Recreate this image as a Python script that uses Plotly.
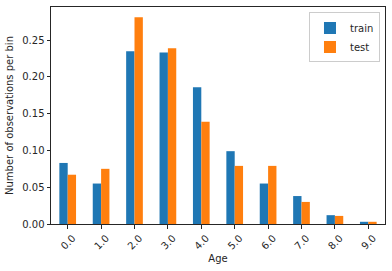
import plotly.graph_objects as go

ages = ["0.0", "1.0", "2.0", "3.0", "4.0", "5.0", "6.0", "7.0", "8.0", "9.0"]
train = [0.083, 0.055, 0.235, 0.233, 0.186, 0.099, 0.055, 0.038, 0.012, 0.003]
test = [0.067, 0.075, 0.281, 0.239, 0.139, 0.079, 0.079, 0.030, 0.011, 0.003]
y_ticks = [0.0, 0.05, 0.10, 0.15, 0.20, 0.25]
y_tick_text = ["0.00", "0.05", "0.10", "0.15", "0.20", "0.25"]

fig = go.Figure()
fig.add_trace(go.Bar(x=ages, y=train, name="train", marker_color="#1f77b4", marker_line_width=0))
fig.add_trace(go.Bar(x=ages, y=test, name="test", marker_color="#ff7f0e", marker_line_width=0))

fig.update_layout(
    width=392, height=271,
    margin=dict(l=51, r=7, t=7, b=47),
    barmode="group", bargap=0.5, bargroupgap=0,
    plot_bgcolor="white", paper_bgcolor="white",
    font=dict(family="DejaVu Sans", size=10, color="#262626"),
    legend=dict(x=0.985, y=0.975, xanchor="right", yanchor="top",
                bordercolor="#cccccc", borderwidth=1, bgcolor="rgba(255,255,255,0.8)",
                font=dict(size=10)),
    xaxis=dict(
        title=dict(text="Age", font=dict(size=10), standoff=4),
        tickangle=-45, ticklabelshift=5, showline=True, linecolor="#262626", linewidth=1, mirror=True,
        ticks="outside", ticklen=3.5, tickcolor="#262626", showgrid=False,
        range=[-0.5, 9.5],
    ),
    yaxis=dict(
        title=dict(text="Number of observations per bin", font=dict(size=10), standoff=6),
        tickvals=y_ticks, ticktext=y_tick_text, range=[0, 0.295],
        showline=True, linecolor="#262626", linewidth=1, mirror=True,
        ticks="outside", ticklen=3.5, tickcolor="#262626", showgrid=False, zeroline=False,
    ),
)

fig.write_html("out.html")
